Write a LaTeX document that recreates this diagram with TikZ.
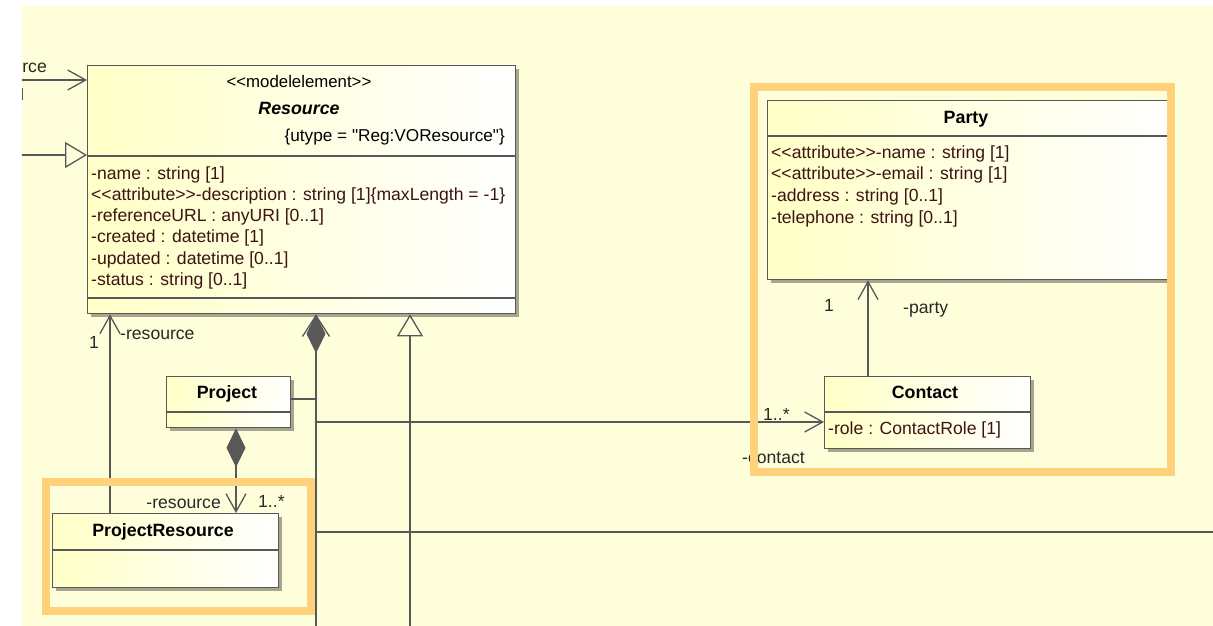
\documentclass[tikz,border=0pt]{standalone}
\usepackage{fontspec}
\setmainfont{Liberation Sans}[Ligatures=TeXOff]
\usetikzlibrary{arrows.meta,shadows}
\definecolor{bg}{RGB}{255,254,218}
\definecolor{boxl}{RGB}{255,255,198}
\definecolor{ln}{RGB}{88,88,88}
\definecolor{hl}{RGB}{255,209,122}
\definecolor{attrc}{RGB}{60,20,20}
\definecolor{lblc}{RGB}{40,40,40}
\tikzset{
  umlbox/.style={draw=ln, line width=1.3pt, left color=boxl, right color=white,
    inner sep=0pt, anchor=north west,
    drop shadow={shadow xshift=3pt, shadow yshift=-3pt, fill=black, opacity=0.35}},
  sepline/.style={draw=ln, line width=1.3pt},
  conn/.style={draw=ln, line width=1.3pt},
  barb/.style={-{Straight Barb[length=18pt,width=20pt]}},
  gen/.style={-{Triangle[length=22pt,width=26pt,fill=bg]}},
  comp/.style={{Diamond[length=39pt,width=19pt]}-},
  compbarb/.style={{Diamond[length=39pt,width=19pt]}-{Straight Barb[length=18pt,width=20pt]}},
  attr/.style={anchor=base west, inner sep=0pt, text=attrc, font=\fontsize{17.6}{21}\selectfont},
  lbl/.style={inner sep=0pt, text=lblc, font=\fontsize{17.6}{21}\selectfont},
  title/.style={anchor=base, inner sep=0pt, text=black, font=\fontsize{17.8}{21}\selectfont\bfseries},
  hlbox/.style={draw=hl, line width=8.5pt},
}
\begin{document}
\begin{tikzpicture}[x=1pt,y=-1pt]
\useasboundingbox (0,0) rectangle (1213,626);
\fill[white] (0,0) rectangle (1213,626);
\fill[bg] (22,6) rectangle (1213,626);

% free coordinates
\coordinate (lf1) at (22,80);
\coordinate (lf2) at (22,155);
\coordinate (bot1) at (316,626);
\coordinate (bot2) at (410,626);
\coordinate (j1) at (316,399);
\coordinate (j2) at (316,422);
\coordinate (j3) at (316,532);
\coordinate (rt3) at (1213,532);

% boxes
\node[umlbox, minimum width=428pt, minimum height=248pt] (res) at (87,65) {};
\node[umlbox, minimum width=124pt, minimum height=51pt] (proj) at (166,376) {};
\node[umlbox, minimum width=226pt, minimum height=74pt] (pr) at (52,513) {};
\node[umlbox, minimum width=402pt, minimum height=179pt] (party) at (767,100) {};
\node[umlbox, minimum width=206pt, minimum height=72pt] (contact) at (824,376) {};

% separators
\draw[sepline] (87,156) -- (515,156);
\draw[sepline] (87,298) -- (515,298);
\draw[sepline] (166,412) -- (290,412);
\draw[sepline] (52,550) -- (278,550);
\draw[sepline] (767,136) -- (1169,136);
\draw[sepline] (824,412) -- (1030,412);

% connectors
\draw[conn, barb] (lf1) -- (lf1 -| res.west);
\draw[conn, gen] (lf2) -- (lf2 -| res.west);
\draw[conn, barb] (pr.north -| 110,0) -- (res.south -| 110,0);
\draw[conn, comp] (res.south -| bot1) -- (bot1);
\draw[conn, -{Straight Barb[length=21pt,width=27pt]}] (316,340) -- (res.south -| bot1);
\draw[conn, gen] (bot2) -- (res.south -| bot2);
\draw[conn] (proj.east |- j1) -- (j1);
\draw[conn, barb] (j2) -- (j2 -| contact.west);
\draw[conn] (j3) -- (rt3);
\draw[conn, compbarb] (proj.south -| 236,0) -- (pr.north -| 236,0);
\draw[conn, barb] (contact.north -| 868,0) -- (party.south -| 868,0);
\draw[ln, line width=1.3pt] (22.7,88) -- (22.7,100);

% Resource texts
\node[anchor=base, inner sep=0pt, font=\fontsize{16.8}{20}\selectfont] (resst) at (299,88) {<<modelelement>>};
\node[title, font=\fontsize{17.8}{21}\selectfont\bfseries\itshape] (restitle) at (299,114) {Resource};
\node[anchor=base east, inner sep=0pt, font=\fontsize{17.2}{20}\selectfont] (resut) at (505,141) {\{utype = "Reg:VOResource"\}};
\node[attr] (ra1) at (91,179) {-name : string [1]};
\node[attr] (ra2) at (91,200) {<<attribute>>-description : string [1]\{maxLength = -1\}};
\node[attr] (ra3) at (91,221) {-referenceURL : anyURI [0..1]};
\node[attr] (ra4) at (91,242) {-created : datetime [1]};
\node[attr] (ra5) at (91,264) {-updated : datetime [0..1]};
\node[attr] (ra6) at (91,285) {-status : string [0..1]};

% other titles
\node[title] (projtitle) at (227,398) {Project};
\node[title] (prtitle) at (163,536) {ProjectResource};
\node[title] (partytitle) at (966,123) {Party};
\node[title] (contacttitle) at (925,398) {Contact};

% Party attributes
\node[attr] (pa1) at (771,158) {<<attribute>>-name : string [1]};
\node[attr] (pa2) at (771,179) {<<attribute>>-email : string [1]};
\node[attr] (pa3) at (771,201) {-address : string [0..1]};
\node[attr] (pa4) at (771,223) {-telephone : string [0..1]};
\node[attr] (ca1) at (828,434) {-role : ContactRole [1]};

% labels
\node[lbl, anchor=base east] (l0) at (47,73) {rce};
\node[lbl, anchor=base west] (l1) at (120,339) {-resource};
\node[lbl, anchor=base] (l2) at (94,348) {1};
\node[lbl, anchor=base east] (l3) at (221,508) {-resource};
\node[lbl, anchor=base west] (l4) at (258,507) {1..*};
\node[lbl, anchor=base] (l5) at (829,311) {1};
\node[lbl, anchor=base west] (l6) at (903,313) {-party};
\node[lbl, anchor=base west] (l7) at (763,420) {1..*};
\node[lbl, anchor=base west] (l8) at (742,463) {-contact};

% highlight frames
\draw[hlbox] (46,482) rectangle (311,611);
\draw[hlbox] (754,87) rectangle (1171,472);
\end{tikzpicture}
\end{document}
